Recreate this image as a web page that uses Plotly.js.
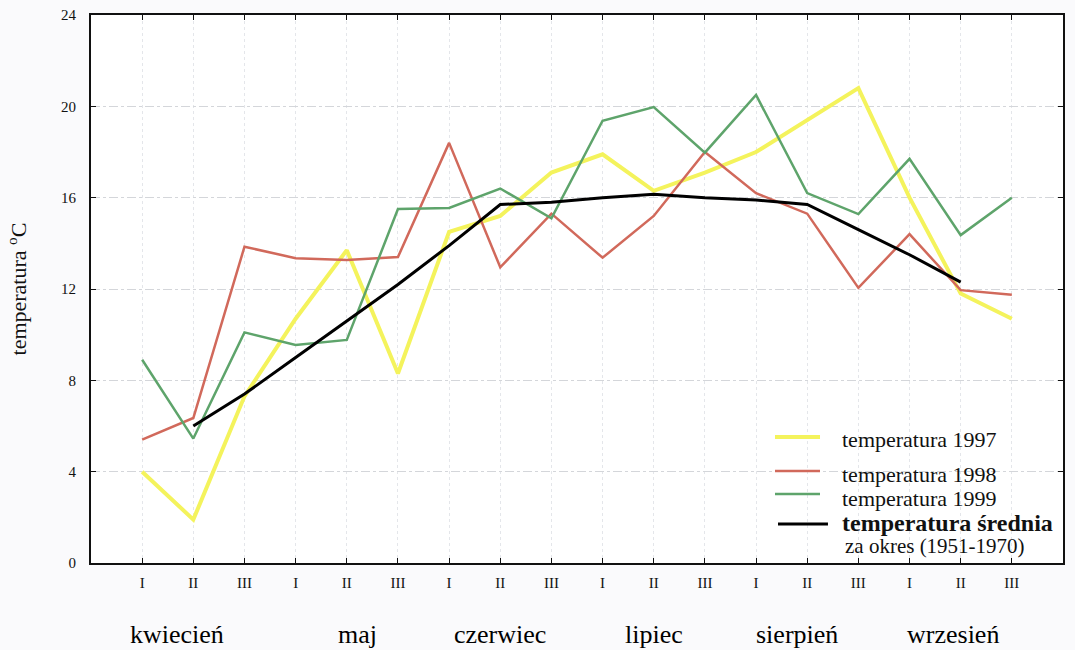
<!DOCTYPE html>
<html><head><meta charset="utf-8">
<script src="https://cdn.plot.ly/plotly-3.0.1.min.js"></script>
<style>html,body{margin:0;padding:0;background:#fafafc;}#chart{width:1075px;height:650px;}</style>
</head><body><div id="chart"></div>
<script>
// decades of each month
const decades = ["I","II","III","I","II","III","I","II","III","I","II","III","I","II","III","I","II","III"];
const months = ["kwiecień","maj","czerwiec","lipiec","sierpień","wrzesień"];
const monthPos = [0.68, 4.2, 7.0, 10.0, 12.8, 15.84];

const t1997 = [4.0, 1.9, 7.3, 10.7, 13.7, 8.3, 14.5, 15.2, 17.1, 17.9, 16.3, 17.1, 18.0, 19.4, 20.8, 16.0, 11.8, 10.7];
const t1998 = [5.4, 6.35, 13.85, 13.35, 13.27, 13.4, 18.4, 12.95, 15.3, 13.37, 15.2, 18.0, 16.2, 15.3, 12.05, 14.4, 11.95, 11.75];
const t1999 = [8.9, 5.45, 10.1, 9.55, 9.77, 15.5, 15.55, 16.4, 15.1, 19.37, 19.97, 17.97, 20.5, 16.2, 15.28, 17.7, 14.36, 16.0];
const tMean = [null, 6.0, 7.4, 9.0, 10.6, 12.2, 13.9, 15.7, 15.8, 16.0, 16.15, 16.0, 15.9, 15.7, 14.6, 13.5, 12.3, null];

const seriesNames = ["temperatura 1997", "temperatura 1998", "temperatura 1999", "temperatura średnia"];
const meanNote = "za okres (1951-1970)";
const colors = ["#f4f35c", "#d1695b", "#5ea46b", "#000000"];
const widths = [4, 2.5, 2.5, 3];

const idx = decades.map((d, i) => i);
const serif = "'Liberation Serif', 'Times New Roman', serif";
const allSeries = [t1997, t1998, t1999, tMean];

const traces = allSeries.map((ys, k) => ({
  x: idx, y: ys, name: seriesNames[k], mode: "lines",
  line: {color: colors[k], width: widths[k]}, showlegend: false
}));

const annotations = months.map((m, i) => ({
  x: monthPos[i], y: -0.131, xref: "x", yref: "paper", text: m, showarrow: false,
  xanchor: "center", yanchor: "middle", font: {family: serif, size: 26, color: "#000"}
}));

// hand-made legend (layout decoration inside the plot area)
const legY = [0.2245, 0.1606, 0.1168, 0.073];
const legLineY = [0.2299, 0.1679, 0.1259, 0.0712];
const legSize = [22, 22, 22, 24];
const shapes = [];
seriesNames.forEach((n, k) => {
  annotations.push({
    x: 0.7706, y: legY[k], xref: "paper", yref: "paper", showarrow: false,
    text: k === 3 ? "<b>" + n + "</b>" : n, xanchor: "left", yanchor: "middle",
    font: {family: serif, size: legSize[k], color: "#111"}
  });
  shapes.push({
    type: "line", xref: "paper", yref: "paper",
    x0: k === 3 ? 0.7068 : 0.7037, x1: k === 3 ? 0.7582 : 0.75,
    y0: legLineY[k], y1: legLineY[k],
    line: {color: colors[k], width: widths[k]}
  });
});
annotations.push({
  x: 0.7737, y: 0.031, xref: "paper", yref: "paper", showarrow: false,
  text: meanNote, xanchor: "left", yanchor: "middle",
  font: {family: serif, size: 21, color: "#111"}
});

const layout = {
  width: 1075, height: 650,
  margin: {l: 91, r: 12, t: 15, b: 87},
  paper_bgcolor: "#fafafc", plot_bgcolor: "#ffffff",
  font: {family: serif, color: "#111"},
  showlegend: false,
  xaxis: {
    range: [-1, 18], tickvals: idx, ticktext: decades,
    showline: true, linecolor: "#111", linewidth: 2, mirror: "ticks",
    ticks: "inside", ticklen: 5, tickcolor: "#111",
    showgrid: true, gridcolor: "#e4e6ea", griddash: "dot", gridwidth: 1,
    zeroline: false, tickfont: {family: serif, size: 15}, ticklabelstandoff: 5
  },
  yaxis: {
    range: [0, 24], tickvals: [0, 4, 8, 12, 16, 20, 24],
    showline: true, linecolor: "#111", linewidth: 2, mirror: "ticks",
    ticks: "inside", ticklen: 5, tickcolor: "#111",
    showgrid: true, gridcolor: "#d4d6da", griddash: "dashdot", gridwidth: 1,
    zeroline: false, tickfont: {family: serif, size: 15}, ticklabelstandoff: 10,
    title: {text: "temperatura <sup>o</sup>C", font: {family: serif, size: 22}, standoff: 28}
  },
  shapes: shapes,
  annotations: annotations
};

Plotly.newPlot("chart", traces, layout, {displayModeBar: false});
</script></body></html>
